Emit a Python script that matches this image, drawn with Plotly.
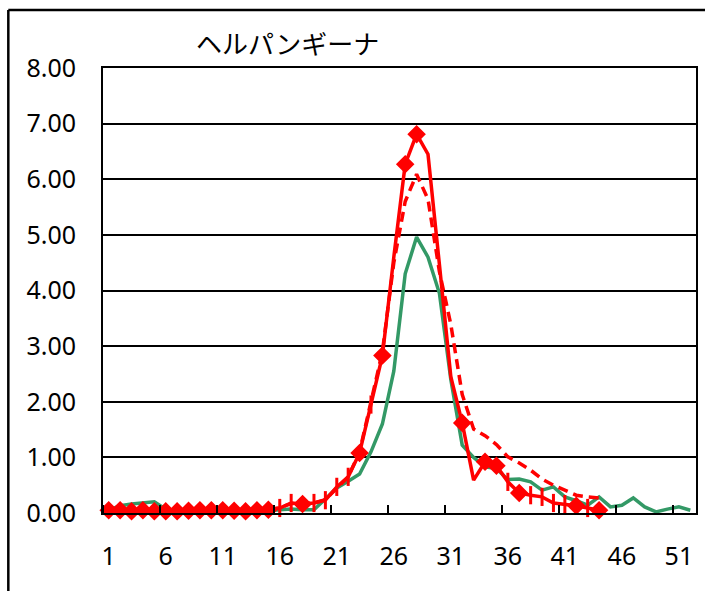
import plotly.graph_objects as go

weeks = list(range(1, 53))

# green: average of past years (weeks 1-52)
green_vals = [0.05, 0.13, 0.16, 0.18, 0.20, 0.07, 0.04, 0.04, 0.04, 0.04,
              0.04, 0.04, 0.04, 0.04, 0.04, 0.06, 0.07, 0.06, 0.06, 0.25,
              0.45, 0.57, 0.70, 1.10, 1.60, 2.55, 4.30, 4.96, 4.60, 3.95,
              2.40, 1.22, 1.00, 0.83, 0.80, 0.60, 0.61, 0.56, 0.41, 0.47,
              0.29, 0.22, 0.14, 0.29, 0.11, 0.14, 0.27, 0.11, 0.02, 0.07,
              0.11, 0.05]

# red dashed: previous year (weeks 1-44)
dashed_vals = [0.05, 0.05, 0.04, 0.05, 0.04, 0.04, 0.04, 0.04, 0.05, 0.05,
               0.05, 0.04, 0.04, 0.05, 0.06, 0.09, 0.17, 0.17, 0.18, 0.24,
               0.45, 0.65, 1.10, 2.00, 2.90, 4.50, 5.60, 6.09, 5.64, 4.34,
               3.39, 2.13, 1.51, 1.39, 1.23, 1.01, 0.90, 0.77, 0.61, 0.50,
               0.41, 0.32, 0.29, 0.27]

# red solid: current year (weeks 1-44)
solid_vals = [0.05, 0.05, 0.03, 0.05, 0.03, 0.03, 0.03, 0.04, 0.05, 0.05,
              0.05, 0.04, 0.03, 0.05, 0.06, 0.09, 0.18, 0.16, 0.18, 0.23,
              0.47, 0.65, 1.08, 1.95, 2.83, 4.60, 6.27, 6.81, 6.45, 4.47,
              2.45, 1.62, 0.59, 0.92, 0.85, 0.56, 0.36, 0.32, 0.29, 0.18,
              0.16, 0.13, 0.09, 0.05]

x_tick_vals = [1, 6, 11, 16, 21, 26, 31, 36, 41, 46, 51]
x_tick_text = [str(v) for v in x_tick_vals]
y_tick_vals = [0, 1, 2, 3, 4, 5, 6, 7, 8]
y_tick_text = [f"{v:.2f}" for v in y_tick_vals]
title_text = "ヘルパンギーナ"

# marker styles for the current-year line
diamond_weeks = set(list(range(1, 16)) + [18, 23, 25, 27, 28, 32, 34, 35, 37, 42, 44])
no_marker_weeks = {26, 29, 30, 31, 33}
solid_weeks = weeks[:len(solid_vals)]
sym = ["diamond" if w in diamond_weeks else "line-ns" for w in solid_weeks]
msize = [11 if w in diamond_weeks else (0 if w in no_marker_weeks else 13) for w in solid_weeks]

RED = "#FF0000"
GREEN = "#339966"
FONT = "Noto Sans CJK JP"
NUM_FONT = "Noto Sans"

fig = go.Figure()
fig.add_trace(go.Scatter(x=weeks, y=green_vals, mode="lines",
                         line=dict(color=GREEN, width=3.5), cliponaxis=False,
                         showlegend=False))
fig.add_trace(go.Scatter(x=weeks[:len(dashed_vals)], y=dashed_vals, mode="lines",
                         line=dict(color=RED, width=3.5, dash="10px,6px"),
                         cliponaxis=False, showlegend=False))
fig.add_trace(go.Scatter(x=solid_weeks, y=solid_vals, mode="lines+markers",
                         line=dict(color=RED, width=3.5),
                         marker=dict(symbol=sym, size=msize, color=RED, opacity=1,
                                     line=dict(color=RED, width=3)),
                         cliponaxis=False, showlegend=False))

L, R, T, B = 103, 7, 68, 78
W, H = 705, 591
pw, ph = W - L - R, H - T - B

def px2paper_x(px):
    return (px - L) / pw

def px2paper_y(py):
    return (H - B - py) / ph

# outer chart border (left and top edges visible)
fig.add_shape(type="line", xref="paper", yref="paper",
              x0=px2paper_x(8), x1=px2paper_x(8), y0=px2paper_y(10), y1=px2paper_y(600),
              line=dict(color="black", width=2.5))
fig.add_shape(type="line", xref="paper", yref="paper",
              x0=px2paper_x(8), x1=px2paper_x(710), y0=px2paper_y(10), y1=px2paper_y(10),
              line=dict(color="black", width=2.5))

fig.add_annotation(text=title_text, xref="paper", yref="paper",
                   x=px2paper_x(288), y=px2paper_y(42), xanchor="center", yanchor="middle",
                   showarrow=False, font=dict(family=FONT, size=26, color="black"))

fig.update_layout(
    width=W, height=H,
    margin=dict(l=L, r=R, t=T, b=B, pad=0),
    paper_bgcolor="white", plot_bgcolor="white",
    font=dict(family=NUM_FONT, size=25, color="black"),
    xaxis=dict(range=[0.5, 52.5], tickmode="array", tickvals=x_tick_vals,
               ticktext=x_tick_text, ticks="", showgrid=False, zeroline=False,
               showline=True, linecolor="black", linewidth=2, mirror=True,
               ticklabelstandoff=20,
               minor=dict(tickmode="array",
                          tickvals=[0.5 + 5 * k for k in range(11)],
                          ticks="inside", ticklen=8, tickwidth=2, tickcolor="black",
                          showgrid=False)),
    yaxis=dict(range=[0, 8], tickmode="array", tickvals=y_tick_vals,
               ticktext=y_tick_text, ticks="", showgrid=True, gridcolor="black",
               gridwidth=2, zeroline=False, showline=True, linecolor="black",
               linewidth=2, mirror=True, ticklabelstandoff=20),
)

fig.write_html("out.html", config={"displayModeBar": False},
               post_script="document.body.style.margin='0';document.body.style.overflow='hidden';")
